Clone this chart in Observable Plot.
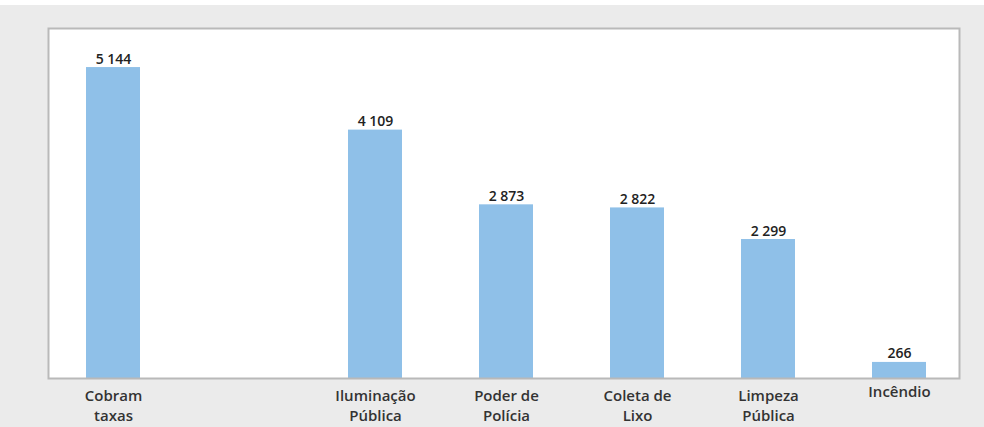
<!DOCTYPE html>
<html>
<head>
<meta charset="utf-8">
<script src="https://cdn.jsdelivr.net/npm/d3@7"></script>
<script src="https://cdn.jsdelivr.net/npm/@observablehq/plot@0.6"></script>
<style>
  html, body { margin: 0; padding: 0; background: #ffffff; }
  #wrap { margin-top: 5px; width: 984px; height: 422px; background: #ebebeb; overflow: hidden; }
  svg { display: block; }
</style>
</head>
<body>
<div id="wrap"></div>
<script>
// Categories (one empty slot between the first and second bar, as in the reference)
const categories = ["Cobram taxas", "", "Iluminação Pública", "Poder de Polícia", "Coleta de Lixo", "Limpeza Pública", "Incêndio"];
const tickLabels = ["Cobram\ntaxas", "", "Iluminação\nPública", "Poder de\nPolícia", "Coleta de\nLixo", "Limpeza\nPública", "Incêndio"];
const barCategories = ["Cobram taxas", "Iluminação Pública", "Poder de Polícia", "Coleta de Lixo", "Limpeza Pública", "Incêndio"];
const values = [5144, 4109, 2873, 2822, 2299, 266];

const bars = barCategories.map((c, i) => ({category: c, value: values[i]}));
const twoLine = categories.map((c, i) => ({category: c, label: tickLabels[i]})).filter(d => d.label.includes("\n"));
const oneLine = categories.map((c, i) => ({category: c, label: tickLabels[i]})).filter(d => d.label && !d.label.includes("\n"));
const fmt = v => d3.format(",")(v).replace(/,/g, " ");

const chart = Plot.plot({
  width: 984,
  height: 422,
  marginTop: 23,
  marginBottom: 49,
  marginLeft: 48,
  marginRight: 25,
  style: {background: "transparent", fontFamily: "'Open Sans', sans-serif"},
  x: {domain: categories, range: [47.5, 964.5], paddingInner: 0.588, paddingOuter: 0.294, axis: null},
  y: {domain: [0, 5790], axis: null},
  marks: [
    Plot.frame({fill: "#ffffff", stroke: null}),
    Plot.barY(bars, {x: "category", y: "value", fill: "#8fc0e8"}),
    Plot.text(bars, {x: "category", y: "value", text: d => fmt(d.value), lineAnchor: "bottom", dy: -4, fontSize: 14, fontWeight: 600, fill: "#222"}),
    Plot.text(twoLine, {x: "category", y: () => 0, text: "label", lineAnchor: "top", dy: 9, lineHeight: 1.3, fontSize: 15, fontWeight: 600, fill: "#333"}),
    Plot.text(oneLine, {x: "category", y: () => 0, text: "label", lineAnchor: "top", dy: 8, fontSize: 15, fontWeight: 600, fill: "#333"}),
    Plot.frame({stroke: "#b9b9b9", strokeWidth: 2})
  ]
});
document.getElementById("wrap").appendChild(chart);
</script>
</body>
</html>
